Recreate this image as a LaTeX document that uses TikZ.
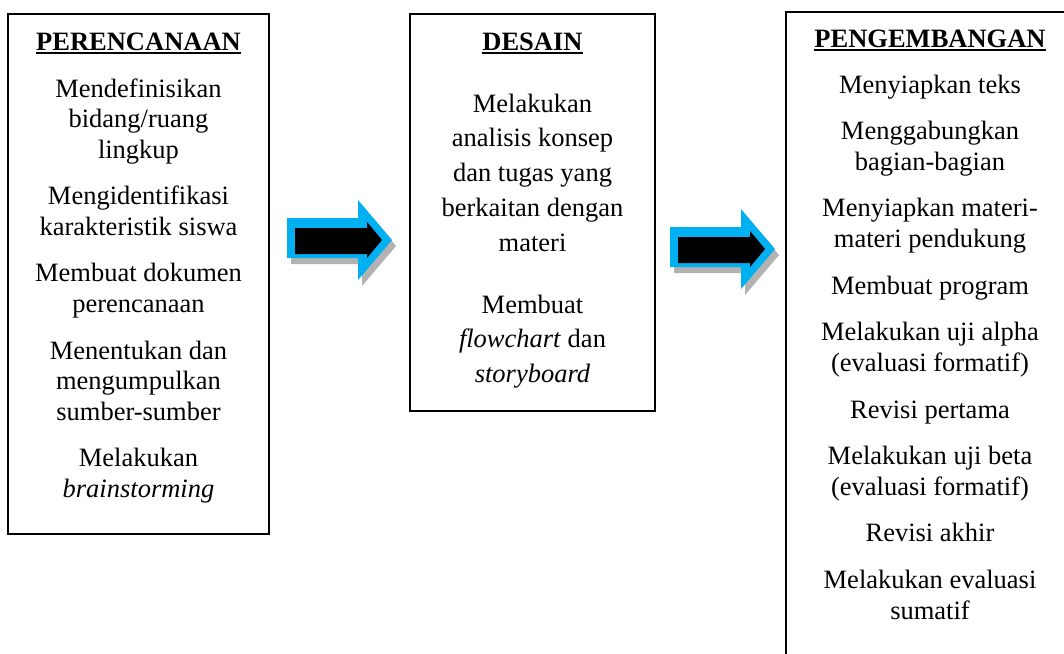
\documentclass[tikz,border=0pt]{standalone}
\usepackage{fontspec}
\setmainfont{Liberation Serif}
\definecolor{panah}{RGB}{0,176,240}
\newcommand{\judul}[1]{{\bfseries\setbox0\hbox{#1}\rlap{\rule[-4pt]{\wd0}{2.2pt}}\box0}}
\begin{document}
\begin{tikzpicture}[x=1pt,y=-1pt,line width=1.6pt,
  txt/.style={anchor=base,font=\fontsize{26.5}{30.5}\selectfont,inner sep=0pt}]
\useasboundingbox (0,0) rectangle (1064,653);
\clip (0,0) rectangle (1064,653);
% kotak
\draw (8,14) rectangle (269,534);
\draw (410,14) rectangle (655,411);
\draw (786,12) rectangle (1074,680);
% perencanaan
\foreach \y/\t [count=\i] in {50/{\judul{PERENCANAAN}},97/{Mendefinisikan},127.5/{bidang/ruang},158/{lingkup},
  204.6/{Mengidentifikasi},235.1/{karakteristik siswa},281.8/{Membuat dokumen},312.3/{perencanaan},
  359/{Menentukan dan},389.5/{mengumpulkan},420/{sumber-sumber},466.6/{Melakukan},497/{\textit{brainstorming}}}
  \node[txt] (a\i) at (138.5,\y) {\t};
% desain
\foreach \y/\t [count=\i] in {50/{\judul{DESAIN}},112/{Melakukan},146.8/{analisis konsep},181.6/{dan tugas yang},
  216.4/{berkaitan dengan},251.2/{materi},313/{Membuat},347.8/{\textit{flowchart} dan},382.6/{\textit{storyboard}}}
  \node[txt] (b\i) at (532.5,\y) {\t};
% pengembangan
\foreach \y/\t [count=\i] in {47/{\judul{PENGEMBANGAN}},93/{Menyiapkan teks},139.7/{Menggabungkan},170.2/{bagian-bagian},
  216.9/{Menyiapkan materi-},247.4/{materi pendukung},294.1/{Membuat program},340.8/{Melakukan uji alpha},
  371.3/{(evaluasi formatif)},418/{Revisi pertama},464.7/{Melakukan uji beta},495.2/{(evaluasi formatif)},
  541.9/{Revisi akhir},588.6/{Melakukan evaluasi},619.1/{sumatif}}
  \node[txt] (c\i) at (930,\y) {\t};
% panah
\foreach \dx/\dy in {0/0,383/9}{
  \begin{scope}[shift={(\dx,\dy)}]
  \fill[black!30] (291,224) -- (362,224) -- (362,206) -- (396,246) -- (362,286) -- (362,264) -- (291,264) -- cycle;
  \fill[panah] (287,218) -- (358,218) -- (358,200) -- (392,240) -- (358,280) -- (358,258) -- (287,258) -- cycle;
  \fill[black] (295,228) -- (367,228) -- (367,222) -- (382,240) -- (367,258) -- (367,254) -- (295,254) -- cycle;
  \end{scope}}
\end{tikzpicture}
\end{document}
